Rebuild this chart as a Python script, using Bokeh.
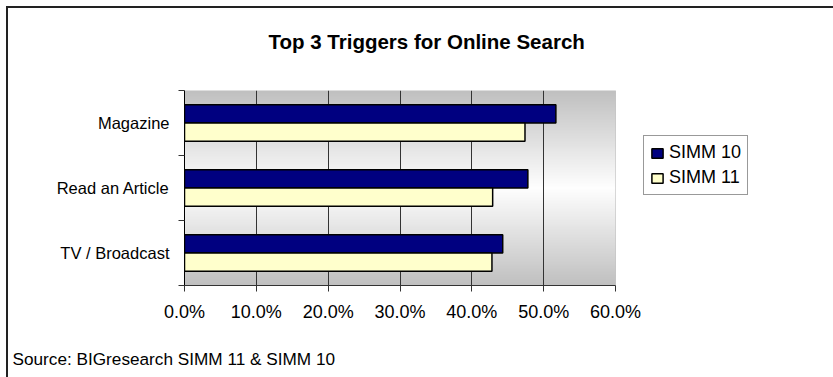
import numpy as np
from bokeh.plotting import figure
from bokeh.models import (Range1d, FixedTicker, PrintfTickFormatter, Legend, LegendItem, Title,
                          InlineStyleSheet, BoxAnnotation)
from bokeh.embed import file_html
from bokeh.resources import INLINE

# ---- data ----
categories = ["TV / Broadcast", "Read an Article", "Magazine"]   # bottom to top
simm10 = [44.3, 47.8, 51.7]
simm11 = [42.8, 42.9, 47.4]
series_names = ["SIMM 10", "SIMM 11"]
x_ticks = [0, 10, 20, 30, 40, 50, 60]
title_text = "Top 3 Triggers for Online Search"
source_text = "Source: BIGresearch SIMM 11 & SIMM 10"

FONT = "Liberation Sans"
W, H = 833, 377
# plot-area edges in page pixels; the Bokeh frame extends further right to hold the legend
L, R, T, B = 184, 615, 90, 285
FR = 790
X0, X1 = x_ticks[0], x_ticks[-1]
X_END = X0 + (X1 - X0) * (FR - L) / (R - L)
NCAT = len(categories)

p = figure(width=W, height=H, output_backend="svg", toolbar_location=None, title=None,
           x_range=Range1d(X0, X_END), y_range=Range1d(0, NCAT))
p.min_border_left = L
p.min_border_right = W - FR
p.min_border_top = T
p.min_border_bottom = H - B
p.background_fill_color = "white"
p.border_fill_color = "white"
p.border_fill_alpha = 0
p.outline_line_color = None
# outer chart frame (top and left edges), drawn behind the transparent canvas border
p.stylesheets = [InlineStyleSheet(css=":host { background: white; box-shadow: inset 6px 6px 0 0 white, inset 8px 8px 0 0 #222222; }")]

# gradient background of the plot area (gray - white - gray, vertical)
n = 200
t = (np.arange(n) + 0.5) / n
v = (255 - (255 - 192) * np.abs(2 * t - 1)).astype(np.uint32)
img = np.empty((n, 1), dtype=np.uint32)
view = img.view(dtype=np.uint8).reshape((n, 1, 4))
view[:, :, 0] = v[:, None]
view[:, :, 1] = v[:, None]
view[:, :, 2] = v[:, None]
view[:, :, 3] = 255
bg = p.image_rgba(image=[img], x=X0, y=0, dw=X1 - X0, dh=NCAT)
bg.level = "image"

# plot-area border
p.add_layout(BoxAnnotation(left=X0, right=X1, bottom=0, top=NCAT, fill_alpha=0,
                           line_color="#808080", line_width=1, level="underlay"))

# bars
centers = [i + 0.5 for i in range(NCAT)]
bh = 0.28
r10 = p.hbar(y=[c + bh / 2 for c in centers], left=0, right=simm10, height=bh,
             fill_color="#000080", line_color="black", line_width=1.5)
r11 = p.hbar(y=[c - bh / 2 for c in centers], left=0, right=simm11, height=bh,
             fill_color="#FFFFCC", line_color="black", line_width=1.5)

# axes
p.xaxis.ticker = FixedTicker(ticks=x_ticks)
p.xaxis.bounds = (X0, X1)
p.xaxis.formatter = PrintfTickFormatter(format="%.1f%%")
p.xaxis.major_tick_out = 6
p.xaxis.major_tick_in = 0
p.xaxis.minor_tick_out = 0
p.xaxis.axis_line_color = "#333333"
p.xaxis.major_tick_line_color = "#333333"
p.xaxis.major_label_text_font = FONT
p.xaxis.major_label_text_font_size = "18px"
p.xaxis.major_label_text_color = "black"
p.xaxis.major_label_standoff = 10

p.yaxis.ticker = FixedTicker(ticks=centers, minor_ticks=list(range(NCAT + 1)))
p.yaxis.major_label_overrides = {c: lab for c, lab in zip(centers, categories)}
p.yaxis.major_tick_out = 0
p.yaxis.major_tick_in = 0
p.yaxis.minor_tick_out = 6
p.yaxis.minor_tick_in = 0
p.yaxis.minor_tick_line_color = "#333333"
p.yaxis.axis_line_color = "black"
p.yaxis.major_label_text_font = FONT
p.yaxis.major_label_text_font_size = "16.5px"
p.yaxis.major_label_text_color = "black"
p.yaxis.major_label_standoff = 9

p.xgrid.ticker = FixedTicker(ticks=[x for x in x_ticks if X0 < x < X1])
p.xgrid.grid_line_color = "#333333"
p.ygrid.grid_line_color = None

# legend (inside the extended frame, right of the plot area)
legend = Legend(items=[LegendItem(label=series_names[0], renderers=[r10]),
                       LegendItem(label=series_names[1], renderers=[r11])],
                location=(643 - L, B - 195))
legend.border_line_color = "#333333"
legend.border_line_width = 1
legend.background_fill_color = "white"
legend.label_text_font = FONT
legend.label_text_font_size = "18px"
legend.label_text_color = "black"
legend.glyph_width = 14
legend.glyph_height = 12
legend.label_standoff = 5
legend.padding = 6
legend.spacing = 4
legend.margin = 0
p.add_layout(legend, "center")

# title (above) with a spacer between it and the plot
p.add_layout(Title(text=" ", text_font_size="1px", standoff=35), "above")
p.add_layout(Title(text=title_text, text_font=FONT, text_font_style="bold",
                   text_font_size="20.5px", text_color="black", align="left",
                   offset=268 - L, standoff=0), "above")

# source (below) with a spacer between it and the axis
p.add_layout(Title(text=" ", text_font_size="1px", standoff=19), "below")
p.add_layout(Title(text=source_text, text_font=FONT, text_font_size="17.2px",
                   text_font_style="normal", text_color="black", align="left",
                   offset=12 - L, standoff=0), "below")

open("out.html", "w").write(file_html(p, INLINE))
